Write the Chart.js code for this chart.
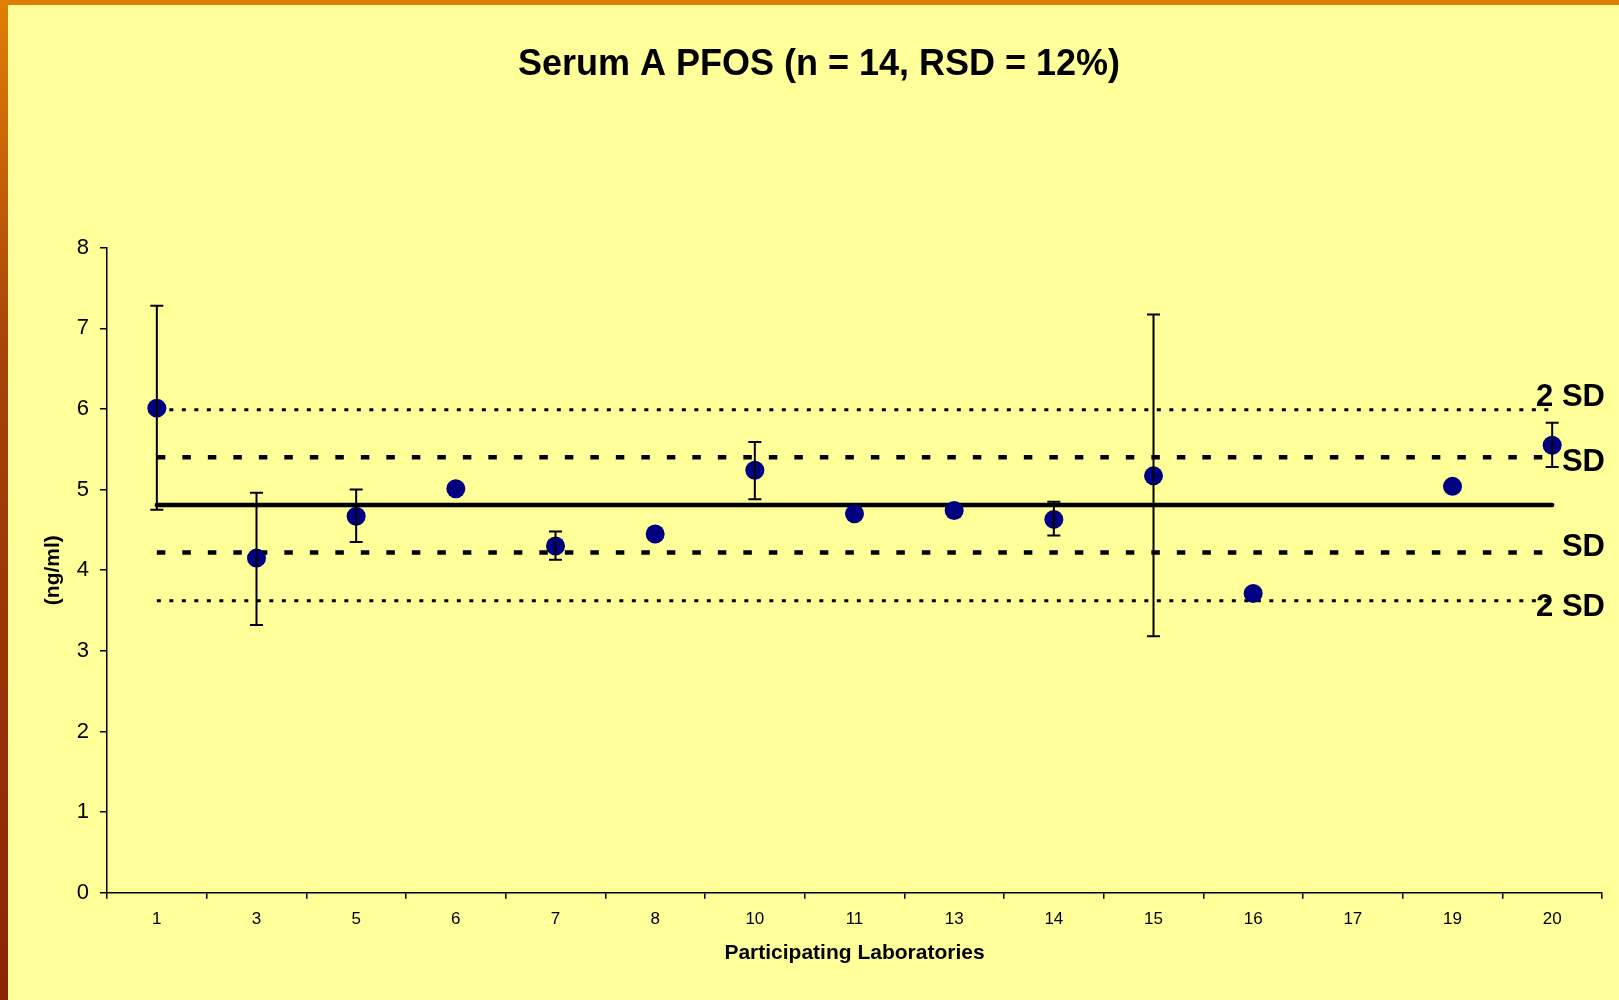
<!DOCTYPE html>
<html>
<head>
<meta charset="utf-8">
<script src="https://cdn.jsdelivr.net/npm/chart.js"></script>
<style>
  html, body { margin: 0; padding: 0; }
  body {
    width: 1619px; height: 1000px; overflow: hidden; position: relative;
    background: linear-gradient(to bottom, #e07f06 0%, #a8420a 35%, #8a2406 100%);
  }
  #panel {
    position: absolute; left: 8px; top: 5px; right: 0; bottom: 0;
    background: #ffff99;
  }
  #myChart { position: absolute; left: 0; top: 0; width: 1619px; height: 1000px; }
</style>
</head>
<body>
<div id="panel"></div>
<canvas id="myChart" width="1619" height="1000"></canvas>
<script>
var labs = ['1', '3', '5', '6', '7', '8', '10', '11', '13', '14', '15', '16', '17', '19', '20'];
var results = [6.01, 4.15, 4.67, 5.01, 4.30, 4.45, 5.24, 4.70, 4.74, 4.63, 5.17, 3.71, null, 5.04, 5.55];
var errHigh = [7.28, 4.96, 5.00, null, 4.48, null, 5.59, null, null, 4.85, 7.17, null, null, null, 5.83];
var errLow = [4.75, 3.32, 4.35, null, 4.13, null, 4.88, null, null, 4.43, 3.18, null, null, null, 5.28];

// consensus mean and +/- 1 SD, 2 SD limits
var meanVal = 4.81;
var sdUp = 5.40, sdDown = 4.22;
var sd2Up = 5.99, sd2Down = 3.62;
var limitLabels = ['2 SD', 'SD', 'SD', '2 SD'];

var FONT = "'Liberation Sans', Arial, sans-serif";

function hline(v) {
  return [{ x: labs[0], y: v }, { x: labs[labs.length - 1], y: v }];
}

// error bars drawn through the y scale
var errorBars = {
  id: 'errorBars',
  afterDatasetsDraw: function (chart) {
    var ctx = chart.ctx, xs = chart.scales.x, ys = chart.scales.y;
    ctx.save();
    ctx.strokeStyle = '#000';
    ctx.lineWidth = 2;
    for (var i = 0; i < labs.length; i++) {
      if (errHigh[i] == null) continue;
      var x = xs.getPixelForValue(i);
      var y1 = ys.getPixelForValue(errHigh[i]);
      var y2 = ys.getPixelForValue(errLow[i]);
      ctx.beginPath();
      ctx.moveTo(x, y1); ctx.lineTo(x, y2);
      ctx.moveTo(x - 6.5, y1); ctx.lineTo(x + 6.5, y1);
      ctx.moveTo(x - 6.5, y2); ctx.lineTo(x + 6.5, y2);
      ctx.stroke();
    }
    ctx.restore();
  }
};

// "2 SD" / "SD" labels at the right end of the limit lines
var limitText = {
  id: 'limitText',
  afterDraw: function (chart) {
    var ctx = chart.ctx, ys = chart.scales.y;
    var vals = [sd2Up, sdUp, sdDown, sd2Down];
    var shift = [-12, 5, -5, 7];
    ctx.save();
    ctx.font = 'bold 31px ' + FONT;
    ctx.fillStyle = '#000';
    ctx.textAlign = 'right';
    ctx.textBaseline = 'middle';
    for (var i = 0; i < vals.length; i++) {
      ctx.fillText(limitLabels[i], 1605, ys.getPixelForValue(vals[i]) + shift[i]);
    }
    ctx.restore();
  }
};

function refLine(v, width, dash) {
  return {
    type: 'line',
    data: hline(v),
    borderColor: '#000',
    borderWidth: width,
    borderDash: dash,
    borderCapStyle: dash.length ? 'butt' : 'round',
    pointRadius: 0,
    fill: false,
    order: 2
  };
}

new Chart(document.getElementById('myChart'), {
  type: 'line',
  data: {
    labels: labs,
    datasets: [
      {
        data: results,
        showLine: false,
        pointRadius: 9.5,
        pointHoverRadius: 9.5,
        pointBackgroundColor: '#000080',
        pointBorderColor: '#000080',
        pointBorderWidth: 0,
        order: 1
      },
      refLine(meanVal, 4.5, []),
      refLine(sdUp, 4.5, [8.5, 17]),
      refLine(sdDown, 4.5, [8.5, 17]),
      refLine(sd2Up, 3, [4, 8.5]),
      refLine(sd2Down, 3, [4, 8.5])
    ]
  },
  options: {
    responsive: false,
    animation: false,
    devicePixelRatio: 1,
    layout: { padding: { left: 36, right: 17, top: 0, bottom: 0 } },
    plugins: {
      legend: { display: false },
      tooltip: { enabled: false },
      title: {
        display: true,
        text: 'Serum A PFOS (n = 14, RSD = 12%)',
        color: '#000',
        font: { family: FONT, size: 36, weight: 'bold' },
        padding: { top: 43, bottom: 161.5 }
      }
    },
    scales: {
      x: {
        type: 'category',
        offset: true,
        grid: { offset: true, drawOnChartArea: false, drawTicks: true, tickLength: 6, color: '#000', lineWidth: 1.5 },
        border: { display: true, color: '#000', width: 1.5 },
        ticks: { color: '#000', padding: 10, font: { family: FONT, size: 17 }, maxRotation: 0, autoSkip: false },
        title: {
          display: true,
          text: 'Participating Laboratories',
          color: '#000',
          font: { family: FONT, size: 21, weight: 'bold' },
          padding: { top: 0, bottom: 34 }
        },
        afterFit: function (s) { s.height = 107.3; }
      },
      y: {
        min: 0,
        max: 8,
        ticks: { stepSize: 1, color: '#000', padding: 11, font: { family: FONT, size: 22 } },
        grid: { drawOnChartArea: false, drawTicks: true, tickLength: 7, color: '#000', lineWidth: 1.5 },
        border: { display: true, color: '#000', width: 1.5 },
        title: {
          display: true,
          text: '(ng/ml)',
          color: '#000',
          font: { family: FONT, size: 21, weight: 'bold' },
          padding: { top: 5, bottom: 0 }
        },
        afterFit: function (s) { s.width = 71; }
      }
    }
  },
  plugins: [errorBars, limitText]
});
</script>
</body>
</html>
